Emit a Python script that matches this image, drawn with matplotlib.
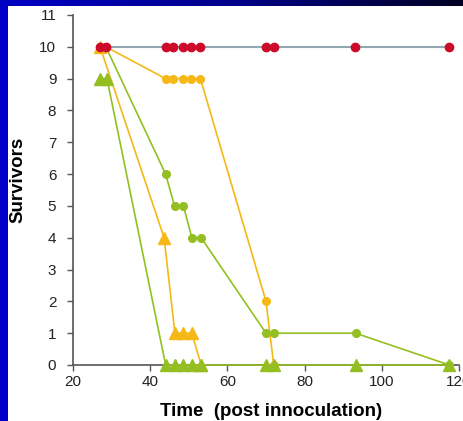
import numpy as np
import matplotlib
matplotlib.use("Agg")
import matplotlib.pyplot as plt
from matplotlib.patches import Rectangle
from matplotlib.colors import LinearSegmentedColormap

plt.rcParams['font.family'] = ['Liberation Sans', 'DejaVu Sans']

# survivors over time, one list pair per group
red_t = [27, 28.5, 44, 46, 48.5, 50.5, 53, 70, 72, 93, 117.5]
red_s = [10, 10, 10, 10, 10, 10, 10, 10, 10, 10, 10]

yel_circ_t = [28.5, 44, 46, 48.5, 50.5, 53, 70, 72]
yel_circ_s = [10, 9, 9, 9, 9, 9, 2, 0]

grn_circ_t = [28.5, 44, 46.3, 48.6, 50.8, 53.2, 70, 72, 93.2, 117.5]
grn_circ_s = [10, 6, 5, 5, 4, 4, 1, 1, 1, 0]

yel_tri_t = [27, 43.6, 46.4, 48.6, 50.8, 53.2]
yel_tri_s = [10, 4, 1, 1, 1, 0]

grn_tri_t = [27, 28.8, 44, 46.4, 48.6, 50.8, 53.2, 70, 72, 93.2, 117.5]
grn_tri_s = [9, 9, 0, 0, 0, 0, 0, 0, 0, 0, 0]

xticks = [20, 40, 60, 80, 100, 120]
yticks = list(range(0, 12))

W, H = 464, 421
fig = plt.figure(figsize=(W / 100, H / 100), dpi=100, facecolor='#0000c8')

# white slide area
fig.patches.append(Rectangle((8 / W, 0), 1 - 8 / W, (H - 6) / H,
                             transform=fig.transFigure, facecolor='white',
                             edgecolor='none', zorder=-10))

# top gradient bar
bar = fig.add_axes([0, (H - 6) / H, 1, 6 / H])
cmap = LinearSegmentedColormap.from_list('bar', ['#0000c4', '#00008a', '#000022'])
bar.imshow(np.linspace(0, 1, 256).reshape(1, -1), aspect='auto', cmap=cmap,
           extent=[0, 1, 0, 1])
bar.set_axis_off()

ax = fig.add_axes([73 / W, (H - 365) / H, (459 - 73) / W, 350 / H])
ax.set_facecolor('none')

yel = '#f6b817'
grn = '#94bf22'
red = '#cc0a2a'

ax.plot(yel_tri_t, yel_tri_s, color=yel, lw=1.2, marker='^', ms=9,
        mec=yel, clip_on=False, zorder=3)
ax.plot(yel_circ_t, yel_circ_s, color=yel, lw=1.2, marker='o', ms=5.5,
        mec=yel, clip_on=False, zorder=4)
ax.plot(grn_circ_t, grn_circ_s, color=grn, lw=1.2, marker='o', ms=5.5,
        mec=grn, clip_on=False, zorder=5)
ax.plot(grn_tri_t, grn_tri_s, color=grn, lw=1.2, marker='^', ms=9,
        mec=grn, clip_on=False, zorder=6)
ax.plot(red_t, red_s, color='#93a9b1', lw=1.5, zorder=7, clip_on=False)
ax.plot(red_t, red_s, ls='none', marker='o', ms=6, color=red, mec=red,
        clip_on=False, zorder=8)

ax.set_xlim(20, 120)
ax.set_ylim(0, 11)
ax.set_xticks(xticks)
ax.set_yticks(yticks)
ax.spines['top'].set_visible(False)
ax.spines['right'].set_visible(False)
for s in ('left', 'bottom'):
    ax.spines[s].set_color('#555555')
    ax.spines[s].set_linewidth(1.2)
ax.tick_params(colors='#555555', labelcolor='#222222', labelsize=11,
               length=4, width=1)
ax.tick_params(axis='y', pad=8)

ax.set_xlabel('Time  (post innoculation)', fontsize=13.5, fontweight='bold')
ax.set_ylabel('Survivors', fontsize=13.5, fontweight='bold')
ax.xaxis.set_label_coords((271 - 73) / 386, (365 - 403) / 350)
ax.yaxis.set_label_coords((26 - 73) / 386, (365 - 180) / 350)

fig.savefig('out.png', dpi=100, facecolor=fig.get_facecolor())
